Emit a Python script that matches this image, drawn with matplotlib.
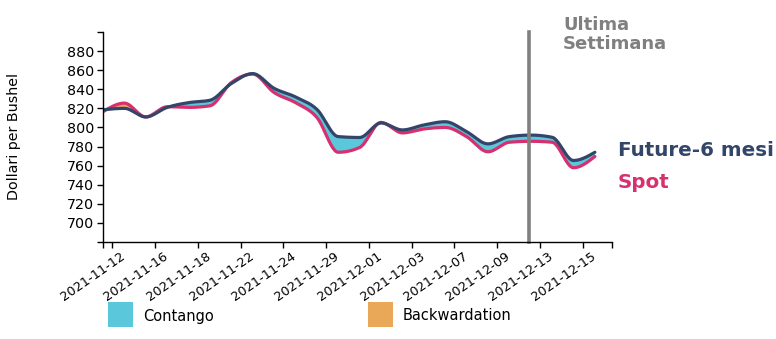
import numpy as np
import matplotlib
matplotlib.use("Agg")
import matplotlib.pyplot as plt
import matplotlib.transforms as mtransforms
from matplotlib.patches import Rectangle

# ---------------------------------------------------------------------------
# data: trading days, future (6 months) and spot prices
# ---------------------------------------------------------------------------
dates = ["2021-11-12", "2021-11-15", "2021-11-16", "2021-11-17", "2021-11-18",
         "2021-11-19", "2021-11-22", "2021-11-23", "2021-11-24", "2021-11-26",
         "2021-11-29", "2021-11-30", "2021-12-01", "2021-12-02", "2021-12-03",
         "2021-12-06", "2021-12-07", "2021-12-08", "2021-12-09", "2021-12-10",
         "2021-12-13", "2021-12-14", "2021-12-15", "2021-12-16"]
future = [818.5, 820.0, 811.0, 821.0, 826.0, 828.5, 846.0, 856.4, 841.0, 832.0,
          819.0, 790.4, 789.5, 804.7, 797.4, 802.6, 806.0, 795.6, 782.8, 790.4,
          792.0, 789.7, 765.4, 774.0]
spot = [816.5, 825.5, 811.0, 821.7, 821.0, 822.7, 847.0, 856.0, 836.6, 826.0,
        810.5, 774.0, 779.0, 805.3, 794.3, 798.4, 800.0, 790.4, 774.5, 784.5,
        785.5, 784.5, 757.8, 769.6]
y_ticks = [700, 720, 740, 760, 780, 800, 820, 840, 860, 880]
last_week_date = "2021-12-13"

C_FUT = "#34456a"
C_SPOT = "#d6306e"
C_CONT = "#5bc7db"
C_BACK = "#e9a857"
C_GREY = "#808080"


def monotone_curve(y, n=24):
    # monotone cubic (Steffen) for a smooth line, same idea as d3.curveMonotoneX
    y = np.asarray(y, float)
    s = np.diff(y)
    t = np.zeros_like(y)
    for i in range(1, len(y) - 1):
        p = (s[i - 1] + s[i]) / 2
        t[i] = (np.sign(s[i - 1]) + np.sign(s[i])) * min(abs(s[i - 1]), abs(s[i]), 0.5 * abs(p))
    t[0] = (3 * s[0] - t[1]) / 2
    t[-1] = (3 * s[-1] - t[-2]) / 2
    xs, ys = [], []
    u = np.linspace(0, 1, n, endpoint=False)
    h00 = 2 * u**3 - 3 * u**2 + 1
    h10 = u**3 - 2 * u**2 + u
    h01 = -2 * u**3 + 3 * u**2
    h11 = u**3 - u**2
    for i in range(len(y) - 1):
        xs.append(i + u)
        ys.append(h00 * y[i] + h10 * t[i] + h01 * y[i + 1] + h11 * t[i + 1])
    xs.append([len(y) - 1])
    ys.append([y[-1]])
    return np.concatenate(xs), np.concatenate(ys)


fig = plt.figure(figsize=(7.76, 3.39), dpi=100)
W, H = 776, 339
ax = fig.add_axes([103 / W, 1 - 242 / H, (612 - 103) / W, (242 - 32) / H])

xs, yf = monotone_curve(future)
_, ysp = monotone_curve(spot)

ax.fill_between(xs, yf, ysp, where=yf >= ysp, interpolate=True, color=C_CONT, lw=0)
ax.fill_between(xs, yf, ysp, where=ysp > yf, interpolate=True, color=C_BACK, lw=0)
ax.plot(xs, ysp, color=C_SPOT, lw=2.3, solid_capstyle="round")
ax.plot(xs, yf, color=C_FUT, lw=2.3, solid_capstyle="round")

# last week marker
lw_x = dates.index(last_week_date) - 0.08
ax.axvline(lw_x, color=C_GREY, lw=2.6, ymin=0, ymax=1, clip_on=False)
fig.text(563 / W, 1 - 16 / H, "Ultima\nSettimana", color=C_GREY, fontsize=13,
         fontweight="bold", va="top", ha="left", linespacing=1.05)

ax.set_xlim(0, 23.8)
ax.set_ylim(680, 900)

# x ticks every other trading day, labels drawn as rotated texts
tick_pos = np.arange(0, len(dates), 2) + 0.43
ax.set_xticks(tick_pos)
ax.set_xticklabels([])
lab_tr = mtransforms.offset_copy(ax.get_xaxis_transform(), fig=fig, x=8, y=-8, units="dots")
for p, d in zip(tick_pos, dates[::2]):
    ax.text(p, 0, d, transform=lab_tr, fontsize=9.3, rotation=35,
            ha="right", va="top", rotation_mode="anchor")
ax.set_xticks([0, 23.8], minor=True)
ax.set_yticks(y_ticks)
ax.set_yticklabels([str(v) for v in y_ticks], fontsize=10.3)
ax.set_yticks([680, 900], minor=True)
ax.tick_params(which="both", length=4.5, width=1, pad=2)

for side in ["top", "right"]:
    ax.spines[side].set_visible(False)
ax.spines["left"].set_linewidth(1)
ax.spines["bottom"].set_linewidth(1)

ax.set_ylabel("Dollari per Bushel", fontsize=10.3)
ax.yaxis.set_label_coords((21 - 103) / (612 - 103), 0.5)

# end labels
fig.text(618 / W, 1 - 150 / H, "Future-6 mesi", color=C_FUT, fontsize=14.3,
         fontweight="bold", va="center", ha="left")
fig.text(618 / W, 1 - 183 / H, "Spot", color=C_SPOT, fontsize=14.3,
         fontweight="bold", va="center", ha="left")

# legend
for x0, col, lab in [(108, C_CONT, "Contango"), (368, C_BACK, "Backwardation")]:
    fig.add_artist(Rectangle((x0 / W, 1 - 327 / H), 25 / W, 25 / H,
                             transform=fig.transFigure, color=col, lw=0))
    fig.text((x0 + 35) / W, 1 - 316 / H, lab, fontsize=10.5, va="center", ha="left")

fig.savefig("out.png", dpi=100)
